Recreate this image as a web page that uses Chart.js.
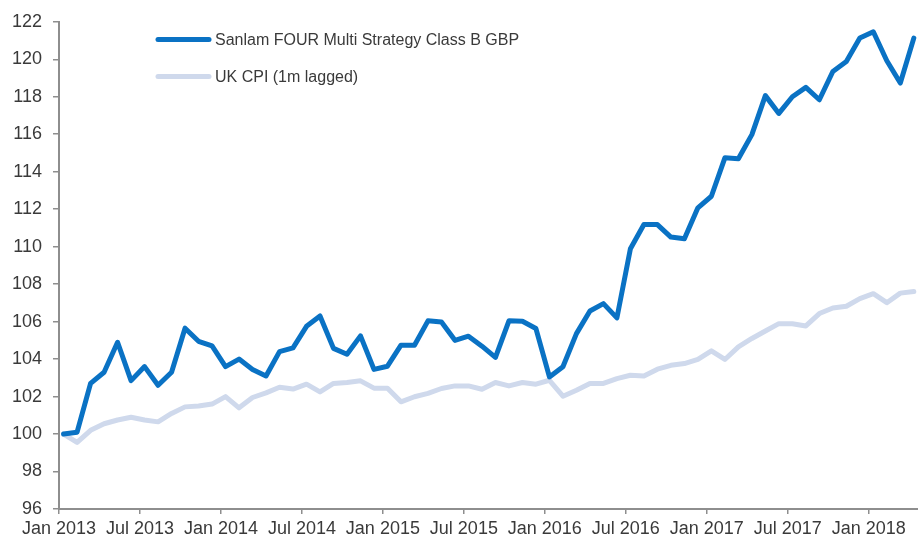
<!DOCTYPE html>
<html>
<head>
<meta charset="utf-8">
<script src="https://cdn.jsdelivr.net/npm/chart.js@4/dist/chart.umd.min.js"></script>
<style>
  html, body { margin: 0; padding: 0; background: #ffffff; }
  #wrap { width: 918px; height: 537px; position: relative; }
</style>
</head>
<body>
<div id="wrap"><canvas id="c" width="918" height="537"></canvas></div>
<script>
// ---- data ----
const seriesNames = ['Sanlam FOUR Multi Strategy Class B GBP', 'UK CPI (1m lagged)'];

// monthly categories Jan 2013 .. Apr 2018
const months = [];
for (let y = 2013; y <= 2018; y++) {
  for (let m = 1; m <= 12; m++) {
    if (y === 2018 && m > 4) break;
    months.push(y + '-' + String(m).padStart(2, '0'));
  }
}

const fund = [
  100.0, 100.1, 102.7, 103.3, 104.9, 102.85, 103.6, 102.6, 103.3, 105.65, 104.95, 104.7,
  103.6, 104.0, 103.45, 103.1, 104.4, 104.6, 105.75, 106.3, 104.57, 104.26, 105.24, 103.45,
  103.62, 104.74, 104.74, 106.04, 105.98, 105.0, 105.22, 104.69, 104.09, 106.04, 106.02, 105.63,
  103.05, 103.59, 105.36, 106.57, 106.96, 106.2, 109.89, 111.18, 111.18, 110.51, 110.42, 112.07,
  112.69, 114.74, 114.69, 115.98, 118.06, 117.11, 118.0, 118.5, 117.84, 119.35, 119.88, 121.13,
  121.47, 119.92, 118.73, 121.13
];

const cpi = [
  100.0, 99.55, 100.2, 100.55, 100.75, 100.9, 100.75, 100.65, 101.1, 101.45, 101.5, 101.6,
  102.0, 101.4, 101.95, 102.2, 102.5, 102.4, 102.66, 102.25, 102.7, 102.75, 102.84, 102.45,
  102.45, 101.72, 101.99, 102.17, 102.43, 102.57, 102.57, 102.39, 102.75, 102.57, 102.75, 102.66,
  102.87, 102.02, 102.34, 102.7, 102.7, 102.96, 103.14, 103.1, 103.46, 103.67, 103.76, 103.98,
  104.44, 103.98, 104.65, 105.1, 105.5, 105.89, 105.89, 105.77, 106.43, 106.73, 106.82, 107.23,
  107.49, 107.01, 107.52, 107.61
];

const xTickLabels = ['Jan 2013', 'Jul 2013', 'Jan 2014', 'Jul 2014', 'Jan 2015', 'Jul 2015',
  'Jan 2016', 'Jul 2016', 'Jan 2017', 'Jul 2017', 'Jan 2018'];

const yMin = 96, yMax = 122, yStep = 2;

// ---- styles ----
const FONT = "'Liberation Sans', Arial, sans-serif";
const TEXT = '#3a3a3a';
const AXIS = '#8e8e8e';
const C_FUND = '#0a72c4';
const C_CPI = '#cfd9ec';
const POINT_SHIFT = 0.34; // data points sit slightly after the month tick

const toXY = (arr) => arr.map((v, i) => ({ x: i + POINT_SHIFT, y: v }));

const legendPlugin = {
  id: 'insideLegend',
  afterDraw(chart) {
    const ctx = chart.ctx;
    const items = [
      { label: seriesNames[0], color: C_FUND, y: 39.5 },
      { label: seriesNames[1], color: C_CPI, y: 76.5 }
    ];
    ctx.save();
    items.forEach(it => {
      ctx.strokeStyle = it.color;
      ctx.lineWidth = 5;
      ctx.lineCap = 'round';
      ctx.beginPath();
      ctx.moveTo(158, it.y);
      ctx.lineTo(209, it.y);
      ctx.stroke();
      ctx.fillStyle = TEXT;
      ctx.font = '16px ' + FONT;
      ctx.textBaseline = 'middle';
      ctx.textAlign = 'left';
      ctx.fillText(it.label, 215, it.y + 1);
    });
    ctx.restore();
  }
};

new Chart(document.getElementById('c'), {
  type: 'line',
  data: {
    datasets: [
      {
        label: seriesNames[0],
        data: toXY(fund),
        borderColor: C_FUND,
        borderWidth: 5,
        pointRadius: 0,
        tension: 0,
        borderJoinStyle: 'round',
        borderCapStyle: 'round'
      },
      {
        label: seriesNames[1],
        data: toXY(cpi),
        borderColor: C_CPI,
        borderWidth: 5,
        pointRadius: 0,
        tension: 0,
        borderJoinStyle: 'round',
        borderCapStyle: 'round'
      }
    ]
  },
  options: {
    responsive: false,
    animation: false,
    devicePixelRatio: 1,
    layout: { padding: { top: 21, right: 0, bottom: 0, left: 0 } },
    plugins: { legend: { display: false }, tooltip: { enabled: false } },
    scales: {
      x: {
        type: 'linear',
        min: 0,
        max: 63.65,
        afterBuildTicks(scale) {
          scale.ticks = xTickLabels.map((_, k) => ({ value: k * 6 }));
        },
        afterFit(scale) { scale.height = 28; },
        ticks: {
          autoSkip: false,
          maxRotation: 0,
          padding: 4,
          color: TEXT,
          font: { family: FONT, size: 18 },
          callback: (v) => xTickLabels[Math.round(v / 6)]
        },
        grid: { drawOnChartArea: false, drawTicks: true, tickLength: 5, color: AXIS, lineWidth: 1.5 },
        border: { display: true, color: AXIS, width: 2 }
      },
      y: {
        min: yMin,
        max: yMax,
        afterFit(scale) { scale.width = 59; },
        ticks: {
          stepSize: yStep,
          padding: 11,
          color: TEXT,
          font: { family: FONT, size: 18 }
        },
        grid: { drawOnChartArea: false, drawTicks: true, tickLength: 6, color: AXIS, lineWidth: 1.5 },
        border: { display: true, color: AXIS, width: 2 }
      }
    }
  },
  plugins: [legendPlugin]
});
</script>
</body>
</html>
